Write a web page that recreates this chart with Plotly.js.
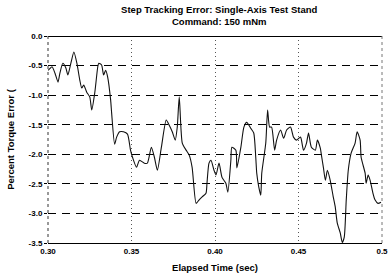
<!DOCTYPE html>
<html>
<head>
<meta charset="utf-8">
<script src="https://cdn.plot.ly/plotly-3.0.1.min.js"></script>
<style>html,body{margin:0;padding:0;background:#fff;}#chart{width:388px;height:279px;}</style>
</head>
<body>
<div id="chart"></div>
<script>
// Elapsed time (sec)
var timeSec = [0.2994,0.3000,0.3024,0.3042,0.3060,0.3071,0.3089,0.3107,0.3119,0.3137,0.3155,0.3173,0.3190,0.3202,0.3214,0.3232,0.3250,0.3262,0.3280,0.3298,0.3304,0.3321,0.3333,0.3345,0.3357,0.3375,0.3381,0.3399,0.3411,0.3429,0.3452,0.3476,0.3494,0.3506,0.3530,0.3548,0.3577,0.3595,0.3619,0.3637,0.3655,0.3679,0.3708,0.3726,0.3744,0.3762,0.3774,0.3786,0.3804,0.3827,0.3845,0.3863,0.3887,0.3905,0.3923,0.3946,0.3952,0.3964,0.3976,0.3994,0.4006,0.4024,0.4042,0.4065,0.4077,0.4095,0.4101,0.4125,0.4131,0.4155,0.4173,0.4190,0.4214,0.4232,0.4244,0.4250,0.4262,0.4274,0.4280,0.4304,0.4315,0.4327,0.4339,0.4357,0.4369,0.4393,0.4411,0.4429,0.4452,0.4470,0.4488,0.4512,0.4530,0.4548,0.4560,0.4577,0.4601,0.4613,0.4631,0.4637,0.4649,0.4661,0.4673,0.4690,0.4708,0.4720,0.4732,0.4750,0.4762,0.4774,0.4786,0.4798,0.4815,0.4839,0.4851,0.4869,0.4875,0.4899,0.4905,0.4917,0.4929,0.4946,0.4958,0.4976,0.4994];
// Percent torque error
var torqueErr = [-0.46,-0.58,-0.52,-0.63,-0.78,-0.63,-0.46,-0.54,-0.66,-0.46,-0.27,-0.46,-0.74,-0.88,-0.83,-0.95,-1.03,-1.25,-0.96,-0.52,-0.46,-0.49,-0.66,-0.58,-0.69,-1.08,-1.30,-1.83,-1.71,-1.62,-1.62,-1.66,-1.93,-2.05,-2.22,-2.10,-2.15,-2.15,-1.88,-2.05,-2.27,-1.88,-1.42,-1.51,-1.62,-1.76,-1.54,-1.03,-1.81,-1.93,-2.01,-2.22,-2.83,-2.77,-2.72,-2.66,-2.49,-2.15,-2.10,-2.27,-2.35,-2.15,-2.39,-2.49,-2.64,-2.10,-1.88,-1.93,-2.23,-1.88,-1.54,-1.46,-1.56,-1.64,-2.05,-2.32,-2.55,-2.69,-2.32,-1.81,-1.25,-1.54,-1.54,-1.93,-1.76,-1.59,-1.73,-1.59,-1.54,-1.71,-1.76,-1.71,-1.93,-1.81,-1.64,-1.88,-1.93,-1.76,-1.90,-2.01,-2.22,-2.44,-2.27,-2.44,-2.72,-2.89,-3.16,-3.33,-3.49,-3.40,-2.77,-2.27,-1.98,-1.81,-1.62,-1.76,-2.05,-2.32,-2.49,-2.35,-2.44,-2.66,-2.77,-2.83,-2.81];
var xTickVals = [0.30,0.35,0.40,0.45,0.50];
var xTickText = ["0.30","0.35","0.40","0.45","0.5"];
var yTickVals = [0.0,-0.5,-1.0,-1.5,-2.0,-2.5,-3.0,-3.5];
var yTickText = ["0.0","-0.5","-1.0","-1.5","-2.0","-2.5","-3.0","-3.5"];

var fam = "Liberation Sans, Arial, sans-serif";
var fnt = {family:fam, size:8, color:"#000", weight:"bold"};
var tfnt = {family:fam, size:9.5, color:"#000", weight:"bold"};

Plotly.newPlot("chart", [{
  x: timeSec, y: torqueErr, type: "scatter", mode: "lines",
  line: {color:"#111", width:1.1, shape:"spline", smoothing:0.6},
  hoverinfo:"skip"
}], {
  width:388, height:279,
  margin:{l:48, r:6, t:36, b:36},
  paper_bgcolor:"#fff", plot_bgcolor:"#fff",
  showlegend:false,
  title:{text:"Step Tracking Error: Single-Axis Test Stand<br>Command: 150 mNm", font:tfnt, x:0.565, xanchor:"center", y:0.955, yanchor:"middle"},
  xaxis:{range:[0.30,0.50], tickvals:xTickVals, ticktext:xTickText, tickfont:fnt, ticklabeloverflow:"allow",
    showgrid:true, gridcolor:"#555", gridwidth:1, griddash:"1px,3px",
    showline:true, linecolor:"#000", linewidth:1.2, ticks:"", zeroline:false,
    title:{text:"Elapsed Time (sec)", font:tfnt, standoff:9}},
  yaxis:{range:[-3.5,0.0], tickvals:yTickVals, ticktext:yTickText, tickfont:fnt,
    showgrid:true, gridcolor:"#000", gridwidth:1, griddash:"8px,6px",
    showline:false, ticks:"outside", ticklen:3, tickcolor:"#000", zeroline:true, zerolinecolor:"#000", zerolinewidth:1,
    title:{text:"Percent Torque Error (", font:tfnt, standoff:12}},
  shapes:[
    {type:"line", xref:"paper", yref:"paper", x0:0, x1:0, y0:0, y1:1, line:{color:"#333", width:1, dash:"dot"}},
    {type:"line", xref:"paper", yref:"paper", x0:1, x1:1, y0:0, y1:1, line:{color:"#777", width:1, dash:"dot"}}
  ]
}, {staticPlot:true});
</script>
</body>
</html>
